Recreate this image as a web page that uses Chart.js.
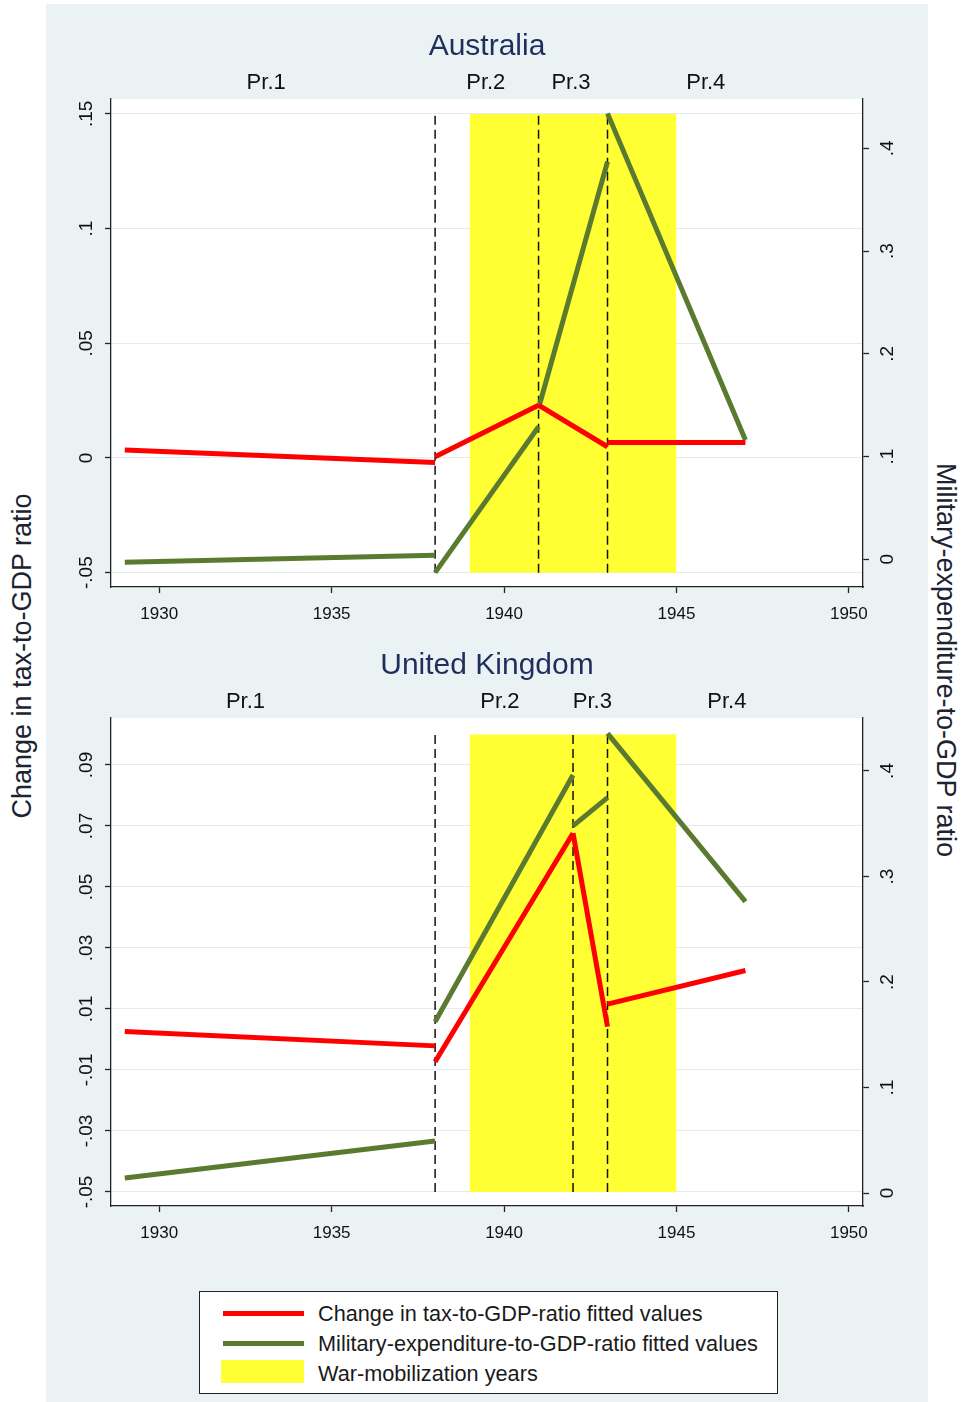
<!DOCTYPE html>
<html>
<head>
<meta charset="UTF-8">
<title>Tax and military expenditure fitted values</title>
<script src="https://cdn.jsdelivr.net/npm/chart.js@4.4.1/dist/chart.umd.min.js"></script>
<style>
  body { margin: 0; background: #fff; width: 962px; height: 1402px; position: relative; overflow: hidden;
         font-family: "Liberation Sans", Arial, sans-serif; }
  .panel { position: absolute; left: 46px; top: 4px; width: 882px; height: 1398px; background: #eaf2f3; }
  canvas { position: absolute; left: 46px; }
  .ytitle { position: absolute; width: 600px; height: 32px; line-height: 32px; text-align: center;
            font-size: 27px; color: #1c2331; white-space: nowrap; }
  .legend { position: absolute; left: 199px; top: 1291px; width: 579px; height: 103px; box-sizing: border-box;
            border: 1px solid #222; background: #fff; }
  .legend .key { position: absolute; left: 23px; width: 81px; }
  .legend .txt { position: absolute; left: 118px; height: 26px; line-height: 26px; font-size: 21.7px;
                 color: #1a1a1a; white-space: nowrap; }
</style>
</head>
<body>
<div class="panel"></div>
<canvas id="aus" width="882" height="620" style="top:4px"></canvas>
<canvas id="uk" width="882" height="620" style="top:623px"></canvas>

<div class="ytitle" style="left:-278px; top:640px; transform:rotate(-90deg);">Change in tax-to-GDP ratio</div>
<div class="ytitle" style="left:646px; top:644px; transform:rotate(90deg);">Military-expenditure-to-GDP ratio</div>

<div class="legend">
  <div class="key" style="top:19px; height:5px; background:#ff0000;"></div>
  <div class="txt" style="top:9px;">Change in tax-to-GDP-ratio fitted values</div>
  <div class="key" style="top:49px; height:5px; background:#5a7a2f;"></div>
  <div class="txt" style="top:39px;">Military-expenditure-to-GDP-ratio fitted values</div>
  <div class="key" style="top:68px; height:23px; left:21px; width:83px; background:#ffff33;"></div>
  <div class="txt" style="top:69px;">War-mobilization years</div>
</div>

<script>
// shared axes
const xTicks = [1930, 1935, 1940, 1945, 1950];
const rightTicks = [0, 0.1, 0.2, 0.3, 0.4];
const periodLabels = ['Pr.1', 'Pr.2', 'Pr.3', 'Pr.4'];
const warYears = [1939, 1945];

// Australia: period boundaries and fitted values at the start / end of each period
const ausBreaks = [1929, 1938, 1941, 1943, 1947];
const ausTaxStart = [0.0035, 0.0005, 0.023, 0.0067];
const ausTaxEnd = [-0.002, 0.023, 0.0049, 0.0067];
const ausMilStart = [-0.003, -0.013, 0.147, 0.434];
const ausMilEnd = [0.004, 0.129, 0.387, 0.116];
const ausLeftTicks = [-0.05, 0, 0.05, 0.1, 0.15];
const ausPrPos = [1933.1, 1939.47, 1941.94, 1945.85];

// United Kingdom
const ukBreaks = [1929, 1938, 1942, 1943, 1947];
const ukTaxStart = [0.0026, -0.0073, 0.0676, 0.0116];
const ukTaxEnd = [-0.0021, 0.0676, 0.0042, 0.0226];
const ukMilStart = [0.0142, 0.1624, 0.3479, 0.4357];
const ukMilEnd = [0.0493, 0.3962, 0.3747, 0.2761];
const ukLeftTicks = [-0.05, -0.03, -0.01, 0.01, 0.03, 0.05, 0.07, 0.09];
const ukPrPos = [1932.5, 1939.88, 1942.56, 1946.46];

Chart.defaults.font.family = '"Liberation Sans", Arial, sans-serif';
Chart.defaults.color = '#111';

function fmt(v) {
  if (v === 0) return '0';
  return String(v).replace('0.', '.');
}

function segData(breaks, starts, ends) {
  const pts = [];
  for (let i = 0; i < starts.length; i++) {
    if (i > 0) pts.push({x: breaks[i], y: null});
    pts.push({x: breaks[i], y: starts[i]});
    pts.push({x: breaks[i + 1], y: ends[i]});
  }
  return pts;
}

const plotBg = {
  id: 'plotBg',
  beforeDraw(chart) {
    const a = chart.chartArea, ctx = chart.ctx;
    ctx.save();
    ctx.fillStyle = '#fff';
    ctx.fillRect(a.left, a.top, a.right - a.left, a.bottom - a.top);
    ctx.restore();
  }
};

function makeChart(id, title, breaks, taxStart, taxEnd, milStart, milEnd, leftTicks, leftMin, leftMax, rightMin, rightMax, prPos, warTop) {
  const datasets = [
    {data: segData(breaks, taxStart, taxEnd), borderColor: '#ff0000', borderWidth: 5, yAxisID: 'y', order: 1},
    {data: segData(breaks, milStart, milEnd), borderColor: '#5a7a2f', borderWidth: 5, yAxisID: 'y2', order: 1}
  ];
  breaks.slice(1, 4).forEach(yr => {
    datasets.push({data: [{x: yr, y: leftTicks[0]}, {x: yr, y: warTop}], borderColor: '#111',
      borderWidth: 1.5, borderDash: [9, 5], yAxisID: 'y', order: 2});
  });
  datasets.push({data: [{x: warYears[0], y: warTop}, {x: warYears[1], y: warTop}], borderWidth: 0,
    backgroundColor: '#ffff33', fill: {value: leftTicks[0]}, yAxisID: 'y', order: 3});

  return new Chart(document.getElementById(id), {
    type: 'line',
    data: {datasets: datasets},
    options: {
      responsive: false,
      animation: false,
      devicePixelRatio: 1,
      layout: {padding: 0},
      elements: {point: {radius: 0}, line: {tension: 0, borderCapStyle: 'butt', fill: false}},
      spanGaps: false,
      plugins: {
        legend: {display: false},
        tooltip: {enabled: false},
        title: {display: true, text: title, color: '#1e2f5e', font: {size: 30, weight: 'normal'},
                padding: {top: 25, bottom: 0}}
      },
      scales: {
        x: {
          type: 'linear', position: 'bottom', min: 1928.6, max: 1950.41,
          afterBuildTicks: s => { s.ticks = xTicks.map(v => ({value: v})); },
          afterFit: s => { s.height = 37; },
          border: {display: true, color: '#222', width: 1.3},
          grid: {drawOnChartArea: false, tickLength: 6, tickColor: '#222', tickWidth: 1.3},
          ticks: {font: {size: 17}, padding: 11, maxRotation: 0, autoSkip: false, callback: v => String(v)}
        },
        xTop: {
          type: 'linear', position: 'top', min: 1928.6, max: 1950.41,
          afterBuildTicks: s => { s.ticks = prPos.map(v => ({value: v})); },
          afterFit: s => { s.height = 34; },
          border: {display: false},
          grid: {display: false, drawTicks: false},
          ticks: {font: {size: 22}, padding: 3, maxRotation: 0, autoSkip: false,
                  callback: (v, i) => periodLabels[i]}
        },
        y: {
          type: 'linear', position: 'left', min: leftMin, max: leftMax,
          afterBuildTicks: s => { s.ticks = leftTicks.map(v => ({value: v})); },
          afterFit: s => { s.width = 65; },
          border: {display: true, color: '#222', width: 1.3},
          grid: {color: '#e3ebee', lineWidth: 1, tickLength: 6, tickColor: '#222', tickWidth: 1.3},
          ticks: {font: {size: 19}, minRotation: 90, maxRotation: 90, crossAlign: 'center', padding: 2,
                  autoSkip: false, callback: v => fmt(v)}
        },
        y2: {
          type: 'linear', position: 'right', min: rightMin, max: rightMax,
          afterBuildTicks: s => { s.ticks = rightTicks.map(v => ({value: v})); },
          afterFit: s => { s.width = 65; },
          border: {display: true, color: '#222', width: 1.3},
          grid: {drawOnChartArea: false, tickLength: 6, tickColor: '#222', tickWidth: 1.3},
          ticks: {font: {size: 19}, minRotation: 90, maxRotation: 90, crossAlign: 'center', padding: 11,
                  autoSkip: false, callback: v => fmt(v)}
        }
      }
    },
    plugins: [plotBg]
  });
}

makeChart('aus', 'Australia', ausBreaks, ausTaxStart, ausTaxEnd, ausMilStart, ausMilEnd,
  ausLeftTicks, -0.05625, 0.1565, -0.027, 0.448, ausPrPos, 0.15);
makeChart('uk', 'United Kingdom', ukBreaks, ukTaxStart, ukTaxEnd, ukMilStart, ukMilEnd,
  ukLeftTicks, -0.0546, 0.1054, -0.0123, 0.4502, ukPrPos, 0.1);
</script>
</body>
</html>
